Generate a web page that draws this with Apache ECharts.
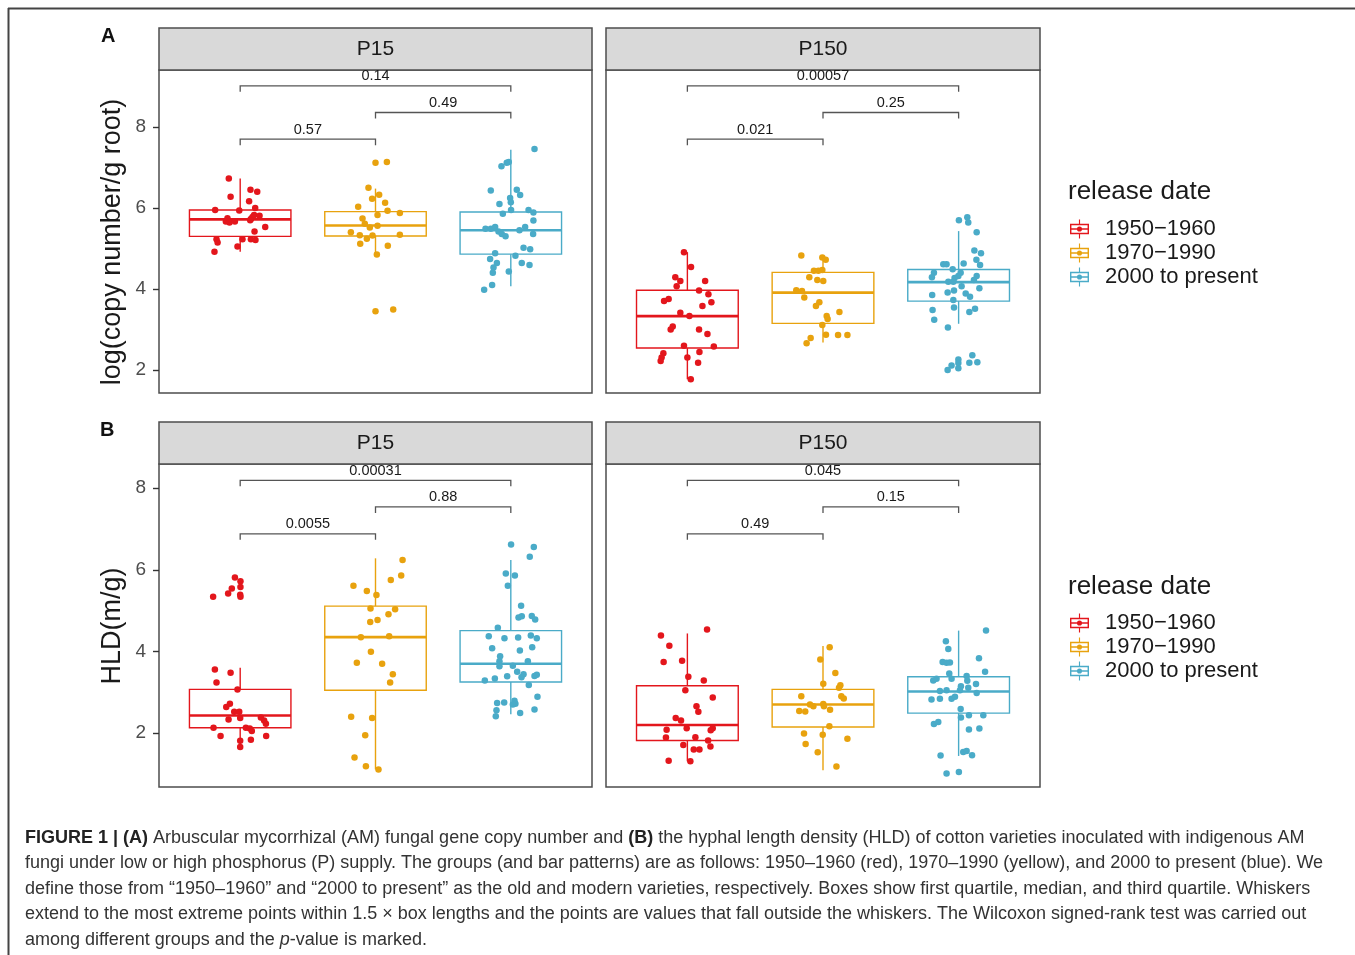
<!DOCTYPE html>
<html>
<head>
<meta charset="utf-8">
<script src="https://cdn.jsdelivr.net/npm/echarts@6/dist/echarts.min.js"></script>
<style>html,body{margin:0;padding:0;background:#fff}#c{width:1355px;height:955px}</style>
</head>
<body>
<div id="c"></div>
<script>
// ---------------- data ----------------
const GROUPS = ['1950\u22121960', '1970\u22121990', '2000 to present'];
const FACETS = ['P15', 'P150'];
const Y_TICKS = [2, 4, 6, 8];
const Y_TITLE_A = 'log(copy number/g root)';
const Y_TITLE_B = 'HLD(m/g)';

// box stats per group: [lower whisker, Q1, median, Q3, upper whisker]
const BOX_A15  = [[4.92, 5.30, 5.72, 5.95, 6.73], [4.84, 5.31, 5.57, 5.91, 6.48], [4.07, 4.86, 5.45, 5.90, 7.44]];
const BOX_A150 = [[1.77, 2.54, 3.33, 3.97, 4.91], [2.68, 3.15, 3.91, 4.41, 4.72], [3.14, 3.70, 4.17, 4.48, 5.43]];
const BOX_B15  = [[1.66, 2.13, 2.43, 3.07, 3.60], [1.11, 3.05, 4.35, 5.11, 6.28], [2.46, 3.25, 3.70, 4.51, 6.24]];
const BOX_B150 = [[1.31, 1.82, 2.20, 3.16, 4.44], [1.09, 2.15, 2.70, 3.07, 4.13], [1.44, 2.49, 3.02, 3.38, 4.51]];

// jittered points: [horizontal jitter (category units), value]
const PTS_A15_1 = [[-0.084,6.73],[-0.071,6.28],[0.076,6.45],[0.126,6.40],[0.066,6.17],[-0.185,5.95],[-0.007,5.94],[0.111,6.00],[-0.094,5.75],[-0.106,5.67],[-0.079,5.64],[-0.039,5.67],[0.079,5.73],[0.091,5.78],[0.103,5.83],[0.143,5.81],[0.074,5.70],[0.185,5.53],[0.106,5.42],[-0.175,5.23],[-0.167,5.15],[0.017,5.23],[0.079,5.23],[0.113,5.21],[-0.020,5.05],[-0.190,4.92]];
const PTS_A15_2 = [[0.0,7.12],[0.084,7.14],[-0.052,6.50],[-0.025,6.23],[0.027,6.33],[0.071,6.13],[-0.128,6.03],[0.089,5.93],[0.180,5.88],[0.015,5.83],[-0.096,5.74],[-0.079,5.61],[-0.042,5.52],[0.015,5.56],[-0.182,5.40],[-0.116,5.33],[-0.064,5.24],[-0.022,5.32],[0.180,5.34],[-0.113,5.12],[0.091,5.07],[0.010,4.85],[0.0,3.45],[0.131,3.49]];
const PTS_A15_3 = [[0.175,7.46],[-0.069,7.03],[-0.030,7.12],[-0.015,7.14],[-0.148,6.43],[0.044,6.45],[0.069,6.32],[-0.005,6.25],[-0.084,6.10],[0.0,6.14],[0.002,5.95],[-0.059,5.86],[0.131,5.95],[0.167,5.89],[0.167,5.69],[0.106,5.53],[0.064,5.45],[-0.187,5.49],[-0.148,5.49],[-0.116,5.53],[-0.091,5.42],[-0.067,5.36],[-0.039,5.30],[0.165,5.36],[0.094,5.02],[0.143,4.98],[-0.116,4.88],[-0.153,4.74],[-0.103,4.64],[-0.128,4.53],[-0.133,4.40],[0.034,4.82],[0.081,4.64],[0.138,4.59],[-0.015,4.43],[-0.197,3.98],[-0.138,4.10]];
const PTS_A150_1 = [[-0.025,4.91],[0.027,4.54],[-0.089,4.29],[-0.052,4.20],[-0.079,4.07],[0.131,4.20],[0.086,3.96],[0.155,3.87],[-0.172,3.70],[-0.138,3.75],[0.111,3.58],[0.177,3.67],[-0.052,3.41],[0.015,3.33],[-0.108,3.07],[-0.123,3.00],[0.086,3.00],[0.148,2.89],[-0.025,2.60],[0.195,2.58],[-0.177,2.41],[-0.190,2.31],[-0.197,2.22],[0.0,2.31],[0.089,2.44],[0.079,2.18],[0.025,1.77]];
const PTS_A150_2 = [[-0.160,4.83],[-0.005,4.78],[0.020,4.72],[-0.067,4.45],[-0.034,4.45],[-0.005,4.47],[-0.101,4.29],[-0.042,4.22],[0.002,4.20],[-0.197,3.97],[-0.155,3.95],[-0.138,3.79],[-0.027,3.67],[-0.052,3.58],[0.121,3.43],[0.027,3.33],[0.034,3.26],[-0.005,3.11],[0.022,2.87],[0.111,2.86],[0.180,2.86],[-0.091,2.79],[-0.121,2.66]];
const PTS_A150_3 = [[0.002,5.70],[0.064,5.77],[0.071,5.64],[0.133,5.40],[0.116,4.95],[0.165,4.88],[0.037,4.63],[-0.113,4.61],[-0.089,4.61],[0.131,4.72],[0.158,4.59],[-0.044,4.49],[-0.182,4.40],[-0.197,4.29],[0.015,4.40],[-0.002,4.32],[-0.030,4.27],[0.133,4.32],[0.113,4.22],[-0.076,4.18],[-0.039,4.18],[0.022,4.07],[0.153,4.02],[-0.081,3.91],[-0.034,3.96],[0.052,3.89],[0.084,3.81],[-0.195,3.85],[-0.039,3.73],[-0.192,3.48],[-0.034,3.54],[0.079,3.43],[0.121,3.51],[-0.180,3.24],[-0.079,3.05],[-0.002,2.26],[-0.002,2.17],[-0.002,2.04],[-0.052,2.11],[-0.081,2.00],[0.079,2.18],[0.101,2.36],[0.138,2.19]];
const PTS_B15_1 = [[-0.039,5.81],[0.002,5.72],[0.002,5.58],[-0.062,5.54],[-0.089,5.42],[0.0,5.39],[0.002,5.34],[-0.200,5.34],[-0.187,3.56],[-0.071,3.48],[-0.175,3.24],[-0.020,3.07],[-0.076,2.72],[-0.103,2.64],[-0.044,2.52],[-0.007,2.52],[0.0,2.37],[-0.086,2.33],[0.153,2.38],[0.177,2.31],[0.190,2.23],[-0.197,2.13],[0.042,2.13],[0.071,2.11],[0.086,2.05],[-0.145,1.93],[0.192,1.93],[0.079,1.84],[0.0,1.81],[0.0,1.66]];
const PTS_B15_2 = [[0.200,6.24],[0.190,5.86],[0.113,5.75],[-0.163,5.61],[-0.064,5.48],[0.007,5.38],[-0.037,5.05],[0.145,5.03],[0.096,4.91],[0.015,4.77],[-0.039,4.72],[-0.108,4.35],[0.101,4.37],[-0.034,3.99],[-0.138,3.72],[0.049,3.70],[0.128,3.44],[0.108,3.24],[-0.180,2.40],[-0.025,2.37],[-0.076,1.95],[-0.155,1.40],[-0.071,1.19],[0.022,1.11]];
const PTS_B15_3 = [[0.002,6.62],[0.170,6.56],[0.140,6.32],[-0.037,5.91],[0.030,5.86],[-0.022,5.61],[0.076,5.12],[0.057,4.83],[0.081,4.86],[0.155,4.87],[0.180,4.78],[-0.096,4.58],[-0.163,4.37],[-0.047,4.32],[0.054,4.34],[0.148,4.39],[0.192,4.32],[-0.138,4.08],[0.067,4.02],[0.158,4.10],[-0.079,3.88],[-0.084,3.76],[-0.084,3.64],[0.015,3.65],[0.126,3.76],[0.047,3.50],[0.094,3.44],[0.079,3.37],[0.175,3.40],[0.192,3.43],[-0.192,3.29],[-0.118,3.34],[-0.027,3.39],[0.133,3.18],[0.197,2.89],[-0.101,2.74],[-0.049,2.75],[0.027,2.79],[0.034,2.72],[0.015,2.70],[-0.106,2.56],[-0.111,2.41],[0.069,2.49],[0.175,2.58]];
const PTS_B150_1 = [[-0.195,4.39],[0.145,4.54],[-0.133,4.14],[-0.175,3.74],[-0.039,3.77],[0.007,3.38],[0.121,3.29],[-0.015,3.05],[0.187,2.87],[0.067,2.66],[0.081,2.52],[-0.086,2.37],[-0.047,2.31],[-0.005,2.12],[-0.153,2.08],[0.187,2.12],[0.172,2.07],[-0.158,1.89],[0.059,1.90],[0.153,1.82],[-0.030,1.71],[0.170,1.67],[0.047,1.60],[0.089,1.60],[-0.138,1.32],[0.022,1.31]];
const PTS_B150_2 = [[0.049,4.10],[-0.020,3.80],[0.091,3.47],[0.002,3.21],[0.128,3.17],[0.118,3.11],[0.135,2.90],[0.153,2.85],[-0.160,2.90],[-0.096,2.70],[-0.071,2.66],[0.002,2.71],[0.007,2.66],[-0.175,2.54],[-0.131,2.53],[0.052,2.57],[0.047,2.17],[-0.140,1.99],[-0.002,1.96],[0.180,1.86],[-0.128,1.73],[-0.039,1.53],[0.099,1.18]];
const PTS_B150_3 = [[0.202,4.51],[-0.094,4.25],[-0.076,4.06],[-0.118,3.74],[-0.089,3.72],[-0.064,3.73],[0.150,3.83],[0.195,3.50],[-0.069,3.46],[-0.052,3.33],[-0.187,3.29],[-0.163,3.33],[0.059,3.40],[0.064,3.28],[0.017,3.15],[0.071,3.11],[0.128,3.20],[-0.138,3.03],[-0.089,3.05],[0.010,3.05],[0.133,2.98],[-0.200,2.82],[-0.138,2.84],[-0.052,2.84],[-0.027,2.89],[0.015,2.59],[0.017,2.38],[0.076,2.44],[0.182,2.44],[-0.182,2.22],[-0.150,2.27],[0.076,2.09],[0.153,2.11],[0.034,1.54],[0.059,1.56],[0.099,1.46],[-0.133,1.45],[-0.089,1.01],[0.002,1.05]];

// significance brackets: [from group, to group, height, p-value]
const PVAL_A15  = [[1, 3, 9.02, '0.14'], [2, 3, 8.36, '0.49'], [1, 2, 7.70, '0.57']];
const PVAL_A150 = [[1, 3, 9.02, '0.00057'], [2, 3, 8.36, '0.25'], [1, 2, 7.70, '0.021']];
const PVAL_B15  = [[1, 3, 8.19, '0.00031'], [2, 3, 7.54, '0.88'], [1, 2, 6.88, '0.0055']];
const PVAL_B150 = [[1, 3, 8.19, '0.045'], [2, 3, 7.54, '0.15'], [1, 2, 6.88, '0.49']];

const CAPTION = [
  '{b|FIGURE 1 | (A)} Arbuscular mycorrhizal (AM) fungal gene copy number and {b|(B)} the hyphal length density (HLD) of cotton varieties inoculated with indigenous AM',
  'fungi under low or high phosphorus (P) supply. The groups (and bar patterns) are as follows: 1950\u20131960 (red), 1970\u20131990 (yellow), and 2000 to present (blue). We',
  'define those from \u201c1950\u20131960\u201d and \u201c2000 to present\u201d as the old and modern varieties, respectively. Boxes show first quartile, median, and third quartile. Whiskers',
  'extend to the most extreme points within 1.5 \u00d7 box lengths and the points are values that fall outside the whiskers. The Wilcoxon signed-rank test was carried out',
  'among different groups and the {i|p}-value is marked.'
];

// ---------------- styling ----------------
const COLORS = ['#E3161C', '#E8A20E', '#4AABC8'];
const FONT = '"Liberation Sans", Arial, Helvetica, sans-serif';
const DARK = '#1a1a1a';
const FRAME = '#4d4d4d';
const CAP_SIZE = 18;

const PANELS = [
  { box: BOX_A15,  pts: [PTS_A15_1, PTS_A15_2, PTS_A15_3],   pv: PVAL_A15,  left: 159, top: 70,  width: 433, ymin: 1.43, ymax: 9.41, facet: FACETS[0] },
  { box: BOX_A150, pts: [PTS_A150_1, PTS_A150_2, PTS_A150_3], pv: PVAL_A150, left: 606, top: 70,  width: 434, ymin: 1.43, ymax: 9.41, facet: FACETS[1] },
  { box: BOX_B15,  pts: [PTS_B15_1, PTS_B15_2, PTS_B15_3],   pv: PVAL_B15,  left: 159, top: 464, width: 433, ymin: 0.68, ymax: 8.59, facet: FACETS[0] },
  { box: BOX_B150, pts: [PTS_B150_1, PTS_B150_2, PTS_B150_3], pv: PVAL_B150, left: 606, top: 464, width: 434, ymin: 0.68, ymax: 8.59, facet: FACETS[1] }
];
const PANEL_H = 323;
const STRIP_H = 42;

function boxRender(params, api) {
  const x = api.value(0), lo = api.value(1), q1 = api.value(2), md = api.value(3), q3 = api.value(4), hi = api.value(5);
  const c = COLORS[params.dataIndex];
  const hw = 0.375;
  const pTL = api.coord([x - hw, q3]);
  const pBR = api.coord([x + hw, q1]);
  const pM = api.coord([x, md]);
  const pHi = api.coord([x, hi]);
  const pLo = api.coord([x, lo]);
  return {
    type: 'group',
    children: [
      { type: 'line', shape: { x1: pHi[0], y1: pHi[1], x2: pHi[0], y2: pTL[1] }, style: { stroke: c, lineWidth: 1.4 } },
      { type: 'line', shape: { x1: pLo[0], y1: pLo[1], x2: pLo[0], y2: pBR[1] }, style: { stroke: c, lineWidth: 1.4 } },
      { type: 'rect', shape: { x: pTL[0], y: pTL[1], width: pBR[0] - pTL[0], height: pBR[1] - pTL[1] }, style: { stroke: c, fill: 'none', lineWidth: 1.4 } },
      { type: 'line', shape: { x1: pTL[0], y1: pM[1], x2: pBR[0], y2: pM[1] }, style: { stroke: c, lineWidth: 2.6 } }
    ]
  };
}

function bracketRender(list) {
  return function (params, api) {
    const row = list[params.dataIndex];
    const p1 = api.coord([row[0], row[2]]);
    const p2 = api.coord([row[1], row[2]]);
    const t = 6;
    return {
      type: 'group',
      children: [
        { type: 'polyline', shape: { points: [[p1[0], p1[1] + t], [p1[0], p1[1]], [p2[0], p2[1]], [p2[0], p2[1] + t]] }, style: { stroke: '#555', lineWidth: 1.3, fill: 'none' } },
        { type: 'text', style: { x: (p1[0] + p2[0]) / 2, y: p1[1] - 2, text: row[3], align: 'center', verticalAlign: 'bottom', fontSize: 14.5, fontFamily: FONT, fill: DARK } }
      ]
    };
  };
}

const grid = [], xAxis = [], yAxis = [], series = [], graphic = [];

PANELS.forEach((p, i) => {
  grid.push({ left: p.left, top: p.top, width: p.width, height: PANEL_H, show: true, borderColor: FRAME, borderWidth: 1.5, backgroundColor: '#fff', containLabel: false });
  xAxis.push({ type: 'value', gridIndex: i, min: 0.4, max: 3.6, show: false });
  const hasLab = (i % 2 === 0);
  yAxis.push({
    type: 'value', gridIndex: i, min: p.ymin, max: p.ymax,
    axisLine: { show: false },
    splitLine: { show: false },
    axisTick: { show: hasLab, length: 6, customValues: Y_TICKS, lineStyle: { color: '#333', width: 1.4 } },
    axisLabel: { show: hasLab, customValues: Y_TICKS, fontSize: 19, color: '#4d4d4d', margin: 13, fontFamily: FONT }
  });
  series.push({
    type: 'custom', xAxisIndex: i, yAxisIndex: i, z: 2, silent: true,
    renderItem: boxRender,
    encode: { x: 0, y: [1, 2, 3, 4, 5] },
    data: p.box.map((b, g) => [g + 1].concat(b))
  });
  p.pts.forEach((arr, g) => {
    series.push({
      type: 'scatter', name: GROUPS[g], xAxisIndex: i, yAxisIndex: i, z: 3, silent: true,
      symbol: 'circle', symbolSize: 6.5,
      itemStyle: { color: COLORS[g], opacity: 1 },
      data: arr.map(d => [g + 1 + d[0], d[1]])
    });
  });
  series.push({
    type: 'custom', xAxisIndex: i, yAxisIndex: i, z: 4, silent: true,
    renderItem: bracketRender(p.pv),
    encode: { x: [0, 1], y: 2 },
    data: p.pv.map(r => [r[0], r[1], r[2]])
  });
  // facet strip
  graphic.push({ type: 'rect', shape: { x: p.left, y: p.top - STRIP_H, width: p.width, height: STRIP_H }, style: { fill: '#d9d9d9', stroke: FRAME, lineWidth: 1.5 }, z: 1 });
  graphic.push({ type: 'text', style: { x: p.left + p.width / 2, y: p.top - STRIP_H / 2, text: p.facet, align: 'center', verticalAlign: 'middle', fontSize: 21, fontFamily: FONT, fill: DARK }, z: 2 });
});

// y axis titles
graphic.push({ type: 'text', x: 113, y: 242, rotation: Math.PI / 2, style: { x: 0, y: 0, text: Y_TITLE_A, align: 'center', verticalAlign: 'middle', fontSize: 27, fontFamily: FONT, fill: DARK } });
graphic.push({ type: 'text', x: 113, y: 626, rotation: Math.PI / 2, style: { x: 0, y: 0, text: Y_TITLE_B, align: 'center', verticalAlign: 'middle', fontSize: 27, fontFamily: FONT, fill: DARK } });

// outer frame, panel letters
graphic.push({ type: 'line', shape: { x1: 8, y1: 8.5, x2: 1355, y2: 8.5 }, style: { stroke: '#444', lineWidth: 2 } });
graphic.push({ type: 'line', shape: { x1: 8.5, y1: 8, x2: 8.5, y2: 955 }, style: { stroke: '#444', lineWidth: 2 } });
graphic.push({ type: 'text', style: { x: 101, y: 36, text: 'A', verticalAlign: 'middle', fontSize: 20, fontWeight: 'bold', fontFamily: FONT, fill: '#111' } });
graphic.push({ type: 'text', style: { x: 100, y: 430, text: 'B', verticalAlign: 'middle', fontSize: 20, fontWeight: 'bold', fontFamily: FONT, fill: '#111' } });

// caption
CAPTION.forEach((line, k) => {
  graphic.push({
    type: 'text',
    style: {
      x: 25, y: 838 + k * 25.4, text: line, verticalAlign: 'middle',
      fontSize: CAP_SIZE, fontFamily: FONT, fill: '#333',
      rich: {
        b: { fontSize: CAP_SIZE, fontFamily: FONT, fontWeight: 'bold', fill: '#222' },
        i: { fontSize: CAP_SIZE, fontFamily: FONT, fontStyle: 'italic', fill: '#333' }
      }
    }
  });
});

const ICON = 'path://M0 4.5H20V6H0Z M0 14H20V15.5H0Z M0 4.5H1.5V15.5H0Z M18.5 4.5H20V15.5H18.5Z M0 9.3H20V10.7H0Z M9.4 0H10.6V4.5H9.4Z M9.4 15.5H10.6V20H9.4Z M12.7 10A2.7 2.7 0 1 1 7.3 10A2.7 2.7 0 1 1 12.7 10Z';

function legendAt(top) {
  return {
    left: 1070, top: top, orient: 'vertical', padding: 0,
    itemWidth: 19, itemHeight: 19, itemGap: 2, icon: ICON, selectedMode: false,
    data: GROUPS,
    textStyle: { fontSize: 22, color: DARK, fontFamily: FONT, lineHeight: 22, padding: [0, 0, 0, 11] }
  };
}

const option = {
  animation: false,
  backgroundColor: '#fff',
  textStyle: { fontFamily: FONT },
  title: [
    { text: 'release date', left: 1068, top: 179, padding: 0, textStyle: { fontSize: 26, fontWeight: 'normal', color: DARK, fontFamily: FONT } },
    { text: 'release date', left: 1068, top: 574, padding: 0, textStyle: { fontSize: 26, fontWeight: 'normal', color: DARK, fontFamily: FONT } }
  ],
  legend: [legendAt(218), legendAt(612)],
  grid: grid,
  xAxis: xAxis,
  yAxis: yAxis,
  series: series,
  graphic: graphic
};

const chart = echarts.init(document.getElementById('c'), null, { renderer: 'canvas', width: 1355, height: 955 });
chart.setOption(option);
</script>
</body>
</html>
